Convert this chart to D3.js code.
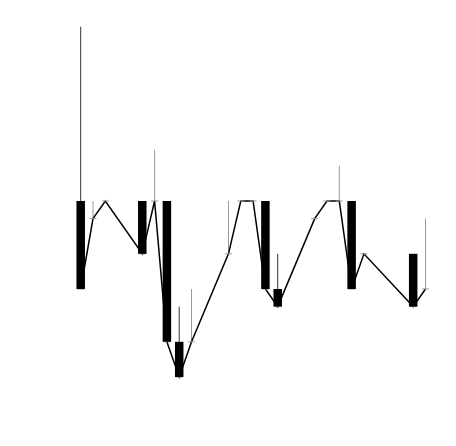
<!DOCTYPE html>
<html>
<head>
<meta charset="utf-8">
<script src="https://cdn.jsdelivr.net/npm/d3@7"></script>
<style>
  html, body { margin: 0; padding: 0; background: #fff; }
  svg { display: block; }
</style>
</head>
<body>
<svg id="chart" width="456" height="446"></svg>
<script>
// ---- data ----
const categories = d3.range(1, 30).map(String);
// bars: start / end values (null = no bar)
const barStart = [0,null,null,null,null,0,null,0,-8,null,null,null,null,null,null,0,-5,null,null,null,null,null,0,null,null,null,null,-3,null];
const barEnd   = [-5,null,null,null,null,-3,null,-8,-10,null,null,null,null,null,null,-5,-6,null,null,null,null,null,-5,null,null,null,null,-6,null];
// whisker top for bars (drawn from bar start)
const barWhisker = [9.9,null,null,null,null,null,null,null,-6,null,null,null,null,null,null,null,-3,null,null,null,null,null,null,null,null,null,null,null,null];
// line series values (null = missing)
const lineValues = [-5,-1,0,null,null,-3,0,-8,-10,-8,null,null,-3,0,0,-5,-6,null,null,-1,0,0,-5,-3,null,null,null,-6,-5];
// upper error of line series (null = none)
const lineErrTop = [null,0,0,null,null,null,2.9,null,null,-5,null,null,0,0,0,null,null,null,null,-1,0,2,null,-3,null,null,null,null,-1];

// ---- scales ----
const svg = d3.select("#chart");
const x = d3.scalePoint().domain(categories).range([80.7, 425.5]);
const y = d3.scaleLinear().domain([-10, 10]).range([377, 25]);
const bw = 8.5;

const idx = d3.range(categories.length);

// line error bars (grey)
svg.append("g").selectAll("line")
  .data(idx.filter(i => lineValues[i] !== null && lineErrTop[i] !== null))
  .join("line")
  .attr("x1", i => x(categories[i])).attr("x2", i => x(categories[i]))
  .attr("y1", i => y(lineValues[i])).attr("y2", i => y(lineErrTop[i]))
  .attr("stroke", "#999").attr("stroke-width", 1);

// line
const pts = idx.filter(i => lineValues[i] !== null);
svg.append("path")
  .datum(pts)
  .attr("fill", "none")
  .attr("stroke", "#000")
  .attr("stroke-width", 1.5)
  .attr("d", d3.line().x(i => x(categories[i])).y(i => y(lineValues[i])));

// caps / markers at line points
svg.append("g").selectAll("line")
  .data(pts)
  .join("line")
  .attr("x1", i => x(categories[i]) - 3.5).attr("x2", i => x(categories[i]) + 3.5)
  .attr("y1", i => y(lineValues[i])).attr("y2", i => y(lineValues[i]))
  .attr("stroke", "#999").attr("stroke-width", 1);

// bars
const barIdx = idx.filter(i => barStart[i] !== null);
svg.append("g").selectAll("rect")
  .data(barIdx)
  .join("rect")
  .attr("x", i => x(categories[i]) - bw / 2)
  .attr("width", bw)
  .attr("y", i => Math.min(y(barStart[i]), y(barEnd[i])))
  .attr("height", i => Math.abs(y(barStart[i]) - y(barEnd[i])))
  .attr("fill", "#000");

// bar whiskers (dark grey)
svg.append("g").selectAll("line")
  .data(idx.filter(i => barWhisker[i] !== null))
  .join("line")
  .attr("x1", i => x(categories[i])).attr("x2", i => x(categories[i]))
  .attr("y1", i => y(barStart[i])).attr("y2", i => y(barWhisker[i]))
  .attr("stroke", "#333").attr("stroke-width", 1);
</script>
</body>
</html>
